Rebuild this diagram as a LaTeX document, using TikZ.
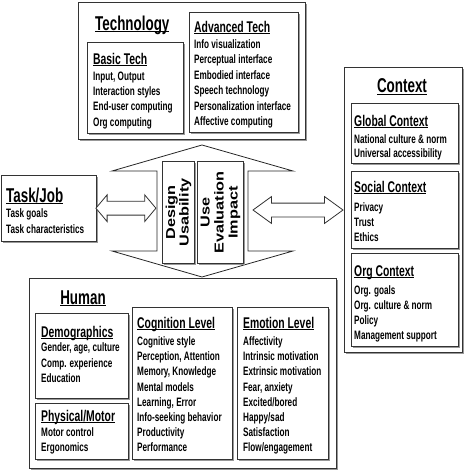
\documentclass[tikz,border=0pt]{standalone}
\usepackage{fontspec}
\setmainfont{Liberation Sans}
\newfontfamily\narrowfont{Liberation Sans}[FakeStretch=0.67]
\newfontfamily\widefont{Liberation Sans}[FakeStretch=1.25]
\usepackage{tikz}
\usetikzlibrary{arrows.meta, positioning, calc, shapes.arrows, shadows}

\newcommand{\uln}[1]{\setbox0\hbox{#1}\rlap{\rule[-1.8pt]{\wd0}{1.1pt}}\box0}

\tikzset{
  box/.style={draw=black!80, line width=0.8pt, fill=white, inner sep=0pt, anchor=north west,
    drop shadow={shadow xshift=1.2pt, shadow yshift=-1.2pt, fill=black!40, opacity=1}},
  bigtitle/.style={font=\narrowfont\bfseries\fontsize{20}{22}\selectfont, inner sep=0pt, anchor=base west},
  subtitle/.style={font=\narrowfont\bfseries\fontsize{15.5}{17}\selectfont, inner sep=0pt, anchor=base west},
  items/.style={font=\narrowfont\bfseries\fontsize{12.2}{#1}\selectfont, inner sep=0pt, anchor=north west, align=left},
  items/.default=15.3,
  vlabel/.style={font=\widefont\bfseries\fontsize{13}{#1}\selectfont, rotate=90, align=center, inner sep=0pt},
  hub/.style={draw=black!85, line width=0.8pt},
  link/.style={double arrow, draw=black!80, line width=0.8pt, fill=white, inner sep=0pt, double arrow head extend=6.5pt},
}

\begin{document}
\begin{tikzpicture}[x=1pt, y=-1pt]
    \useasboundingbox (0,0) rectangle (464,470);

    % Technology
    \node[box, minimum width=227pt, minimum height=137pt] (tech) at (78,2) {};
    \node[bigtitle] (techT) at (95,30.5) {\uln{Technology}};
    \node[box, minimum width=96pt, minimum height=91pt] (basic) at (87,42) {};
    \node[subtitle] (basicT) at (93,64.5) {\uln{Basic Tech}};
    \node[items] (basicL) at (93,71.5) {Input, Output\\Interaction styles\\End-user computing\\Org computing};
    \node[box, minimum width=109pt, minimum height=120pt] (adv) at (189,12) {};
    \node[subtitle] (advT) at (194,32.5) {\uln{Advanced Tech}};
    \node[items=15.4] (advL) at (194,39.5) {Info visualization\\Perceptual interface\\Embodied interface\\Speech technology\\Personalization interface\\Affective computing};

    % Task/Job
    \node[box, minimum width=95pt, minimum height=66pt] (task) at (1,175) {};
    \node[bigtitle] (taskT) at (6,202) {\uln{Task/Job}};
    \node[items=15.5] (taskL) at (6,208.5) {Task goals\\Task characteristics};

    % centre: design / use
    \coordinate (peakT) at (202,145);
    \coordinate (cornerTL) at (112,171);
    \coordinate (cornerTR) at (293,171);
    \coordinate (waistTL) at (157,171);
    \coordinate (waistTR) at (248,171);
    \coordinate (waistBL) at (157,251);
    \coordinate (waistBR) at (248,251);
    \coordinate (cornerBL) at (112,251);
    \coordinate (cornerBR) at (293,251);
    \coordinate (peakB) at (202,277);
    \draw[hub] (waistTL) -- (cornerTL) -- (peakT) -- (cornerTR) -- (waistTR) -- (waistBR)
        -- (cornerBR) -- (peakB) -- (cornerBL) -- (waistBL) -- cycle;
    \node[box, minimum width=32pt, minimum height=102pt] (design) at (162,161) {};
    \node[vlabel=13.5] (designT) at (design.center) {Design\\Usability};
    \node[box, minimum width=46pt, minimum height=102pt] (use) at (197,161) {};
    \node[vlabel=14] (useT) at (use.center) {Use\\Evaluation\\Impact};

    % Context
    \node[box, minimum width=118pt, minimum height=285pt] (ctx) at (344,67) {};
    \node[bigtitle, anchor=base] (ctxT) at (402,93) {\uln{Context}};
    \node[box, minimum width=107pt, minimum height=60pt] (global) at (351,103) {};
    \node[subtitle] (globalT) at (354,126.5) {\uln{Global Context}};
    \node[items=14] (globalL) at (354,134.5) {National culture \& norm\\Universal accessibility};
    \node[box, minimum width=107pt, minimum height=77pt] (social) at (351,171) {};
    \node[subtitle] (socialT) at (354,192.5) {\uln{Social Context}};
    \node[items=14.8] (socialL) at (354,202.5) {Privacy\\Trust\\Ethics};
    \node[box, minimum width=107pt, minimum height=93pt] (org) at (351,253) {};
    \node[subtitle] (orgT) at (354,276.5) {\uln{Org Context}};
    \node[items=15] (orgL) at (354,285.5) {Org. goals\\Org. culture \& norm\\Policy\\Management support};

    % links
    \coordinate (hubW) at (155,208);
    \coordinate (hubE) at (252,210);
    \node[link, minimum height=60pt, double arrow tip angle=100] (linkL) at ($(task.east)!0.5!(hubW)$) {\rule{0pt}{13pt}};
    \node[link, minimum height=90pt, double arrow tip angle=72] (linkR) at ($(hubE)!0.5!(ctx.west |- hubE)$) {\rule{0pt}{13pt}};

    % Human
    \node[box, minimum width=307pt, minimum height=190pt] (human) at (29,278) {};
    \node[bigtitle, anchor=base] (humanT) at (83,304) {\uln{Human}};
    \node[box, minimum width=93pt, minimum height=85pt] (demo) at (35,313) {};
    \node[subtitle] (demoT) at (41,337.5) {\uln{Demographics}};
    \node[items=15.5] (demoL) at (41,342.5) {Gender, age, culture\\Comp. experience\\Education};
    \node[box, minimum width=93pt, minimum height=56pt] (phys) at (35,403) {};
    \node[subtitle] (physT) at (41,421.5) {\uln{Physical/Motor}};
    \node[items=15] (physL) at (41,427.5) {Motor control\\Ergonomics};
    \node[box, minimum width=100pt, minimum height=152pt] (cog) at (132,307) {};
    \node[subtitle] (cogT) at (137,328.5) {\uln{Cognition Level}};
    \node[items=15.2] (cogL) at (137,336.5) {Cognitive style\\Perception, Attention\\Memory, Knowledge\\Mental models\\Learning, Error\\Info-seeking behavior\\Productivity\\Performance};
    \node[box, minimum width=91pt, minimum height=152pt] (emo) at (237,307) {};
    \node[subtitle] (emoT) at (243,328.5) {\uln{Emotion Level}};
    \node[items=15.2] (emoL) at (243,336.5) {Affectivity\\Intrinsic motivation\\Extrinsic motivation\\Fear, anxiety\\Excited/bored\\Happy/sad\\Satisfaction\\Flow/engagement};
\end{tikzpicture}
\end{document}
